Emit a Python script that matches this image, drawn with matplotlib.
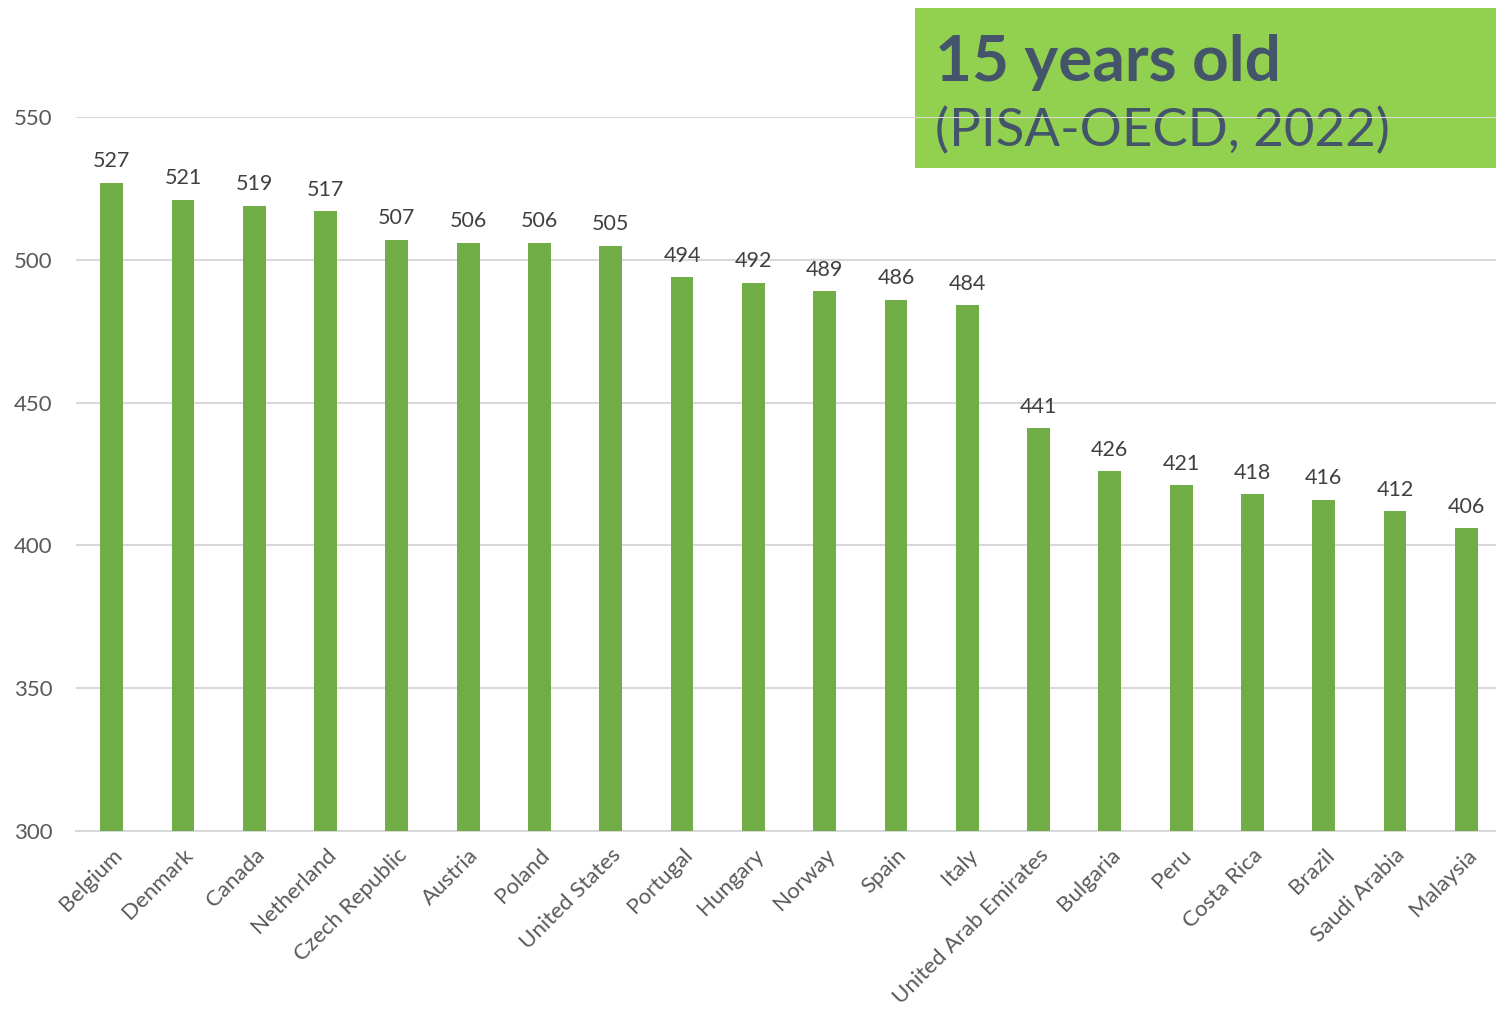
import matplotlib.pyplot as plt
from matplotlib.patches import Rectangle

# Данные
countries = ['Belgium', 'Denmark', 'Canada', 'Netherland', 'Czech Republic',
             'Austria', 'Poland', 'United States', 'Portugal', 'Hungary',
             'Norway', 'Spain', 'Italy', 'United Arab Emirates', 'Bulgaria',
             'Peru', 'Costa Rica', 'Brazil', 'Saudi Arabia', 'Malaysia']
scores = [527, 521, 519, 517, 507, 506, 506, 505, 494, 492,
          489, 486, 484, 441, 426, 421, 418, 416, 412, 406]
y_ticks = [300, 350, 400, 450, 500, 550]

title = '15 years old'
subtitle = '(PISA-OECD, 2022)'

plt.rcParams['font.family'] = ['Lato', 'DejaVu Sans']

fig = plt.figure(figsize=(14.96, 10.09), dpi=100)

# Зелёная плашка с заголовком (под осями, чтобы сетка шла поверх)
box = Rectangle((915 / 1496, 1 - 168 / 1009), 581 / 1496, 160 / 1009,
                transform=fig.transFigure, facecolor='#92D050',
                edgecolor='none', zorder=-2)
fig.add_artist(box)
fig.text(935 / 1496, 1 - 81 / 1009, title, fontsize=46, fontweight='bold',
         color='#44546A', zorder=-1, va='baseline')
fig.text(935 / 1496, 1 - 146 / 1009, subtitle, fontsize=38,
         color='#44546A', zorder=-1, va='baseline')

ax = fig.add_axes([76 / 1496, 178 / 1009, 1426 / 1496, 714 / 1009])
ax.set_facecolor('none')
ax.set_zorder(0)

x = range(len(countries))
bars = ax.bar(x, scores, width=0.32, color='#70AD47', zorder=3)
for xi, v in zip(x, scores):
    ax.text(xi, v + 4, str(v), ha='center', va='bottom',
            fontsize=15.5, color='#404040')

ax.set_ylim(300, 550)
ax.set_xlim(-0.5, len(countries) - 0.5)
ax.set_yticks(y_ticks)
ax.yaxis.grid(True, color='#D9D9D9', linewidth=1.5, zorder=0)
ax.set_axisbelow(True)
ax.tick_params(axis='y', length=0, labelsize=16, labelcolor='#595959', pad=17)
ax.tick_params(axis='x', length=0, labelsize=16, labelcolor='#595959', pad=10)
ax.set_xticks(list(x))
ax.set_xticklabels(countries, rotation=45, ha='right', rotation_mode='anchor')
for side in ['left', 'right', 'top']:
    ax.spines[side].set_visible(False)
ax.spines['bottom'].set_color('#D9D9D9')
ax.spines['bottom'].set_linewidth(1.5)

fig.savefig('out.png', dpi=100)
